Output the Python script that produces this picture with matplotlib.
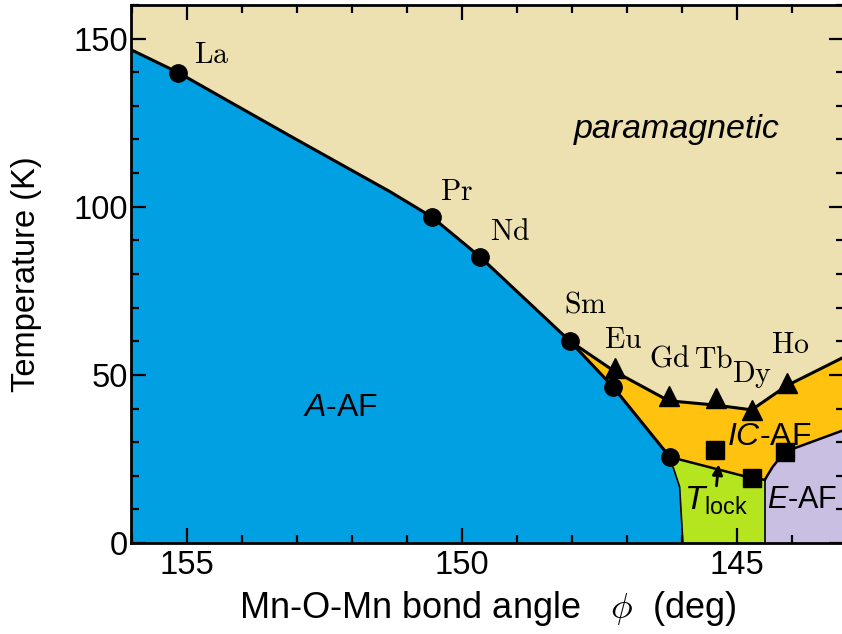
import matplotlib
matplotlib.use("Agg")
import matplotlib.pyplot as plt

plt.rcParams['font.family'] = ['Liberation Sans', 'DejaVu Sans']
plt.rcParams['mathtext.fontset'] = 'custom'
plt.rcParams['mathtext.rm'] = 'Liberation Sans'
plt.rcParams['mathtext.it'] = 'Liberation Sans:italic'

# ---- data (bond angle in deg, temperature in K) ----
elements = ['La', 'Pr', 'Nd', 'Sm', 'Eu', 'Gd', 'Tb', 'Dy', 'Ho']
# A-AF Neel temperatures (circles)
circ_phi = [155.16, 150.55, 149.67, 148.04, 147.25, 146.22]
circ_T = [139.9, 97.0, 85.1, 60.1, 46.4, 25.6]
# IC-AF ordering temperatures (triangles)
tri_phi = [147.22, 146.24, 145.38, 144.73, 144.09]
tri_T = [52.1, 43.8, 43.2, 39.6, 47.6]
# lock-in temperatures (squares)
sq_phi = [145.40, 144.73, 144.13]
sq_T = [27.7, 19.3, 27.1]

# phase boundary lines
para_phi = [156.02, 155.16, 154.45, 153.00, 151.31, 150.55, 149.67, 148.04,
            147.22, 146.24, 145.38, 144.73, 144.09, 143.05]
para_T = [146.7, 139.9, 133.3, 119.9, 104.5, 97.0, 85.1, 60.1,
          51.0, 42.3, 41.0, 39.6, 46.8, 55.3]
aaf_phi = [148.04, 147.25, 146.22, 146.04, 145.98]
aaf_T = [60.1, 46.4, 25.6, 16.7, 0.0]
lock_phi = [146.22, 144.73, 144.49]
lock_T = [25.6, 19.3, 18.8]
eaf_phi = [144.49, 144.35, 144.13, 143.05]
eaf_T = [18.8, 22.6, 27.1, 33.6]

label_phi = [154.55, 150.10, 149.12, 147.76, 147.06, 146.22, 145.42, 144.72, 144.02]
label_T = [145.0, 104.5, 92.6, 70.8, 60.4, 55.0, 54.5, 50.0, 59.0]

XMAX, XMIN = 156.02, 143.05
YMIN, YMAX = 0, 160

C_PARA = '#EEE1B1'
C_AAF = '#00A0E2'
C_IC = '#FFC20F'
C_LOCK = '#B5E51E'
C_EAF = '#C9BFE2'

fig = plt.figure(figsize=(8.42, 6.34), dpi=100)
ax = fig.add_axes([131/842, 91/634, 713/842, 538/634])
ax.set_xlim(XMAX, XMIN)
ax.set_ylim(YMIN, YMAX)
ax.set_facecolor(C_PARA)

# A-AF region (blue)
ax.fill([XMAX] + para_phi[:8] + aaf_phi[1:] + [XMAX],
        [YMIN] + para_T[:8] + aaf_T[1:] + [YMIN], color=C_AAF, lw=0, zorder=1)
# IC-AF region (orange)
ic_x = para_phi[7:] + eaf_phi[::-1] + lock_phi[::-1][1:] + aaf_phi[::-1][2:]
ic_y = para_T[7:] + eaf_T[::-1] + lock_T[::-1][1:] + aaf_T[::-1][2:]
ax.fill(ic_x, ic_y, color=C_IC, lw=0, zorder=1)
# lock-in region (green)
ax.fill(aaf_phi[2:] + [lock_phi[-1]] + lock_phi[::-1],
        aaf_T[2:] + [0.0] + lock_T[::-1], color=C_LOCK, lw=0, zorder=1)
# E-AF region (purple)
ax.fill(eaf_phi + [XMIN, eaf_phi[0]], eaf_T + [0.0, 0.0], color=C_EAF, lw=0, zorder=1)

# boundary lines
ax.plot(para_phi, para_T, color='black', lw=2.2, zorder=3)
ax.plot(aaf_phi[:3], aaf_T[:3], color='black', lw=2.2, zorder=3)
ax.plot(aaf_phi[2:], aaf_T[2:], color='black', lw=1.2, zorder=3)
ax.plot(lock_phi, lock_T, color='black', lw=1.8, zorder=3)
ax.plot([lock_phi[-1], lock_phi[-1]], [lock_T[-1], 0], color='black', lw=1.2, zorder=3)
ax.plot(eaf_phi, eaf_T, color='black', lw=1.8, zorder=3)

# markers
ax.plot(circ_phi, circ_T, 'o', color='black', ms=12.5, zorder=4)
ax.plot(tri_phi, tri_T, '^', color='black', ms=14, zorder=4)
ax.plot(sq_phi, sq_T, 's', color='black', ms=12.5, zorder=4)

for name, x, y in zip(elements, label_phi, label_T):
    ax.text(x, y, r'$\mathrm{%s}$' % name, math_fontfamily='cm', fontsize=21.5,
            ha='center', va='center', zorder=5)

ax.text(146.09, 123, 'paramagnetic', style='italic', fontsize=24.5,
        ha='center', va='center', zorder=5)
ax.text(152.2, 40.2, '$A$-AF', fontsize=23, ha='center', va='center', zorder=5)
ax.text(144.42, 31.5, '$IC$-AF', fontsize=23, ha='center', va='center', zorder=5)
ax.text(145.38, 12.6, r'$T_{\mathrm{lock}}$', fontsize=24, ha='center', va='center', zorder=5)
ax.text(143.81, 12.8, '$E$-AF', fontsize=22, ha='center', va='center', zorder=5)
ax.annotate('', xy=(145.33, 23.4), xytext=(145.37, 17.0),
            arrowprops=dict(arrowstyle='-|>', color='black', lw=2.0,
                            mutation_scale=15, shrinkA=0, shrinkB=0), zorder=5)

ax.set_xticks([155, 150, 145])
ax.set_xticks(range(144, 157), minor=True)
ax.set_yticks([0, 50, 100, 150])
ax.set_yticks(range(0, 161, 10), minor=True)
ax.tick_params(which='both', direction='in', top=True, right=True,
               width=1.6, labelsize=23.5)
ax.tick_params(axis='y', pad=2)
ax.tick_params(axis='x', pad=5)
ax.tick_params(which='major', length=11)
ax.tick_params(which='minor', length=6)
for sp in ax.spines.values():
    sp.set_linewidth(2)
    sp.set_zorder(6)

ax.set_xlabel(r'Mn-O-Mn bond angle   $\phi$  (deg)', fontsize=26,
              math_fontfamily='cm')
ax.xaxis.set_label_coords(0.5, -0.085)
ax.set_ylabel('Temperature (K)', fontsize=23.5)
ax.yaxis.set_label_coords(-0.125, 0.5)

fig.savefig('out.png', dpi=100)
